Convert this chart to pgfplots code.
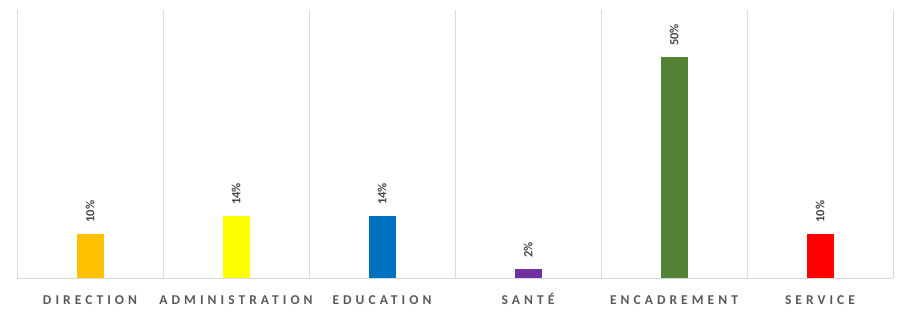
\documentclass[border=0pt]{standalone}
\usepackage{pgfplots}
\pgfplotsset{compat=1.18}
\usepackage{fontspec}
\setmainfont{Carlito}
\newfontfamily\spaced[LetterSpace=30]{Carlito}
\definecolor{cDir}{HTML}{FFC000}
\definecolor{cAdm}{HTML}{FFFF00}
\definecolor{cEdu}{HTML}{0070C0}
\definecolor{cSan}{HTML}{7030A0}
\definecolor{cEnc}{HTML}{548235}
\definecolor{cSer}{HTML}{FF0000}
\definecolor{txt}{HTML}{595959}
\definecolor{grd}{HTML}{D9D9D9}
\begin{document}
\begin{tikzpicture}
\begin{axis}[
  scale only axis,
  width=876pt, height=268pt,
  xmin=-0.5, xmax=5.5, ymin=0, ymax=60.6,
  ybar, bar width=27pt, bar shift=0pt,
  axis y line=none,
  axis x line*=bottom,
  x axis line style={grd, -},
  xtick={0,1,2,3,4,5},
  xticklabels={DIRECTION,ADMINISTRATION,EDUCATION,SANTÉ,ENCADREMENT,SERVICE},
  xticklabel style={font=\spaced\bfseries\fontsize{13.5}{15}\selectfont, text=txt, yshift=-12pt, text height=11pt, text depth=0pt},
  major tick length=0pt,
  minor xtick={-0.5,0.5,1.5,2.5,3.5,4.5,5.5},
  minor tick length=0pt,
  xminorgrids=true,
  minor grid style={grd, line width=0.8pt},
  nodes near coords={\pgfplotspointmeta\%},
  point meta=explicit symbolic,
  nodes near coords style={rotate=90, anchor=west, font=\fontsize{12.5}{14}\selectfont\bfseries, text=black!72, inner sep=1pt},
  every node near coord/.append style={xshift=10pt},
  clip=false,
]
\addplot[fill=cDir, draw=none] coordinates {(0,10) [10]};
\addplot[fill=cAdm, draw=none] coordinates {(1,14) [14]};
\addplot[fill=cEdu, draw=none] coordinates {(2,14) [14]};
\addplot[fill=cSan, draw=none] coordinates {(3,2) [2]};
\addplot[fill=cEnc, draw=none] coordinates {(4,50) [50]};
\addplot[fill=cSer, draw=none] coordinates {(5,10) [10]};
\end{axis}
\pgfresetboundingbox
\path ([shift={(-17pt,-41pt)}]current axis.south west) rectangle ([shift={(7pt,10pt)}]current axis.north east);
\end{tikzpicture}
\end{document}
